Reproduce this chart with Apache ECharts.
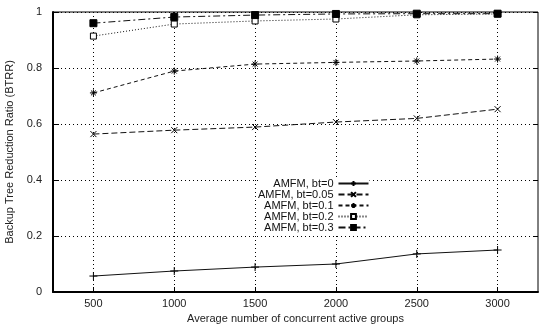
<!DOCTYPE html>
<html>
<head>
<meta charset="utf-8">
<script src="https://cdn.jsdelivr.net/npm/echarts@6/dist/echarts.min.js"></script>
<style>
  html, body { margin: 0; padding: 0; background: #fff; }
  #chart { width: 539px; height: 326px; }
</style>
</head>
<body>
<div id="chart"></div>
<script>
// x positions (groups) and one array per bt setting
const groups = [500, 1000, 1500, 2000, 2500, 3000];
const seriesNames = ['AMFM, bt=0', 'AMFM, bt=0.05', 'AMFM, bt=0.1', 'AMFM, bt=0.2', 'AMFM, bt=0.3'];
const bt0 = [0.057, 0.075, 0.089, 0.100, 0.136, 0.150];
const bt005 = [0.564, 0.578, 0.589, 0.607, 0.620, 0.653];
const bt01 = [0.711, 0.789, 0.814, 0.820, 0.825, 0.832];
const bt02 = [0.914, 0.957, 0.968, 0.975, 0.990, 0.993];
const bt03 = [0.960, 0.982, 0.989, 0.993, 0.994, 0.994];

const font = 'Liberation Sans, Arial, sans-serif';
const symbols = {
  plus: 'path://M0,5L10,5M5,0L5,10',
  cross: 'path://M0,0L10,10M10,0L0,10',
  star: 'path://M0,5L10,5M5,0L5,10M1.5,1.5L8.5,8.5M8.5,1.5L1.5,8.5'
};

function pts(vals) {
  return groups.map((g, i) => [g, vals[i]]);
}

function mk(name, vals, symbol, dash, fill, size) {
  return {
    name: name,
    type: 'line',
    data: pts(vals),
    symbol: symbol,
    symbolSize: size,
    showAllSymbol: true,
    lineStyle: { color: '#111', width: 1, type: dash },
    itemStyle: { color: fill, borderColor: '#000', borderWidth: 1 },
    emphasis: { disabled: true },
    z: 3
  };
}

const chart = echarts.init(document.getElementById('chart'), null, { renderer: 'canvas' });

const option = {
  animation: false,
  backgroundColor: '#fff',
  textStyle: { fontFamily: font },
  grid: {
    left: 53, right: 1, top: 12, bottom: 34,
    outerBoundsMode: 'none',
    show: true, borderColor: '#000', borderWidth: 1, backgroundColor: 'transparent'
  },
  legend: {
    orient: 'vertical',
    align: 'right',
    left: 258,
    top: 178,
    itemWidth: 30,
    itemHeight: 6,
    itemGap: 0,
    padding: 0,
    backgroundColor: '#fff',
    textStyle: { fontSize: 11, lineHeight: 10, color: '#111', fontFamily: font },
    data: seriesNames
  },
  xAxis: {
    type: 'value',
    min: 250,
    max: 3250,
    name: 'Average number of concurrent active groups',
    nameLocation: 'middle',
    nameGap: 20,
    nameTextStyle: { fontSize: 11, color: '#222' },
    axisLine: { lineStyle: { color: '#000', width: 2 } },
    axisTick: { inside: true, length: 5, customValues: groups, lineStyle: { color: '#000' } },
    axisLabel: { customValues: groups, fontSize: 11, color: '#222', margin: 6, formatter: v => String(v) },
    splitLine: { show: true, lineStyle: { color: '#000', type: [1, 3], width: 1 } }
  },
  yAxis: [{
    type: 'value',
    min: 0,
    max: 1,
    interval: 0.2,
    name: 'Backup Tree Reduction Ratio (BTRR)',
    nameLocation: 'middle',
    nameGap: 29,
    nameTextStyle: { fontSize: 11, color: '#222' },
    axisLine: { show: true, lineStyle: { color: '#000', width: 2 } },
    axisTick: { show: true, inside: true, length: 6, lineStyle: { color: '#000' } },
    axisLabel: { fontSize: 11, color: '#222', margin: 11, formatter: v => String(+v.toFixed(1)) },
    splitLine: { show: true, lineStyle: { color: '#000', type: [1, 3], width: 1 } }
  }, {
    type: 'value',
    position: 'right',
    min: 0,
    max: 1,
    interval: 0.2,
    axisLine: { show: false },
    axisTick: { show: true, inside: true, length: 5, lineStyle: { color: '#000' } },
    axisLabel: { show: false },
    splitLine: { show: false }
  }],
  series: [
    mk(seriesNames[0], bt0, symbols.plus, 'solid', '#000', 8),
    mk(seriesNames[1], bt005, symbols.cross, [6, 3], '#000', 6),
    mk(seriesNames[2], bt01, symbols.star, [4, 3], '#000', 7),
    mk(seriesNames[3], bt02, 'rect', [1, 2], '#fff', 6),
    mk(seriesNames[4], bt03, 'rect', [7, 3, 2, 3], '#000', 7)
  ]
};

chart.setOption(option);
</script>
</body>
</html>
